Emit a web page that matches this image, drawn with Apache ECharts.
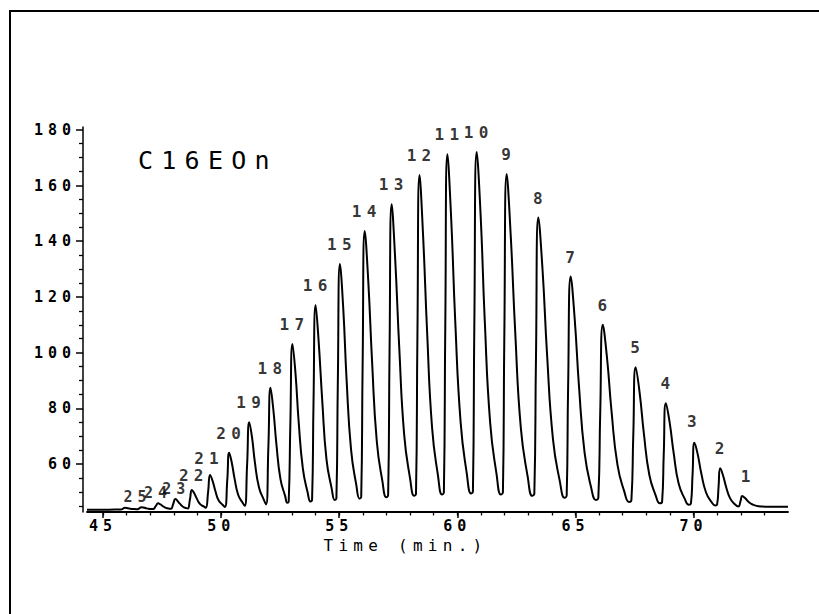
<!DOCTYPE html>
<html>
<head>
<meta charset="utf-8">
<style>
html,body{margin:0;padding:0;background:#fff;}
#main{width:819px;height:614px;}
#main text{letter-spacing:0.33em;}
</style>
<script src="https://cdn.jsdelivr.net/npm/echarts@6.0.0/dist/echarts.min.js"></script>
</head>
<body>
<div id="main"></div>
<script>
// ---- data ----
const peakNumbers = [1,2,3,4,5,6,7,8,9,10,11,12,13,14,15,16,17,18,19,20,21,22,23,24,25];
const peakTimes   = [72.06,71.13,70.04,68.83,67.55,66.16,64.80,63.43,62.09,60.82,59.58,58.40,57.22,56.08,55.03,54.00,53.02,52.09,51.19,50.34,49.53,48.76,48.06,47.33,46.63];
const peakHeights = [48.5,58.5,67.7,81.8,94.8,110.0,127.3,148.5,164.1,172.0,171.2,163.8,153.3,143.7,131.8,117.1,103.1,87.4,75.0,64.1,56.1,50.7,47.5,45.9,44.5];

// detector trace [time (min), signal]
const trace = [
 [44.32,43.6],[45.0,43.6],[45.5,43.7],
 [45.75,43.7],[45.93,44.3],[46.15,44.0],[46.35,43.85],
 [46.45,43.8],[46.63,44.5],[46.85,44.1],[47.05,43.85],
 [47.12,43.85],[47.23,44.9],[47.33,45.9],[47.43,45.5],[47.53,44.9],[47.66,44.3],[47.82,44.0],
 [47.88,43.95],[47.97,45.7],[48.06,47.5],[48.15,46.8],[48.25,45.8],[48.38,44.7],[48.53,44.2],
 [48.59,44.05],[48.68,47.4],[48.76,50.7],[48.86,49.5],[48.97,47.6],[49.11,45.6],[49.28,44.7],
 [49.35,44.3],[49.45,50.2],[49.53,56.1],[49.64,53.9],[49.75,50.5],[49.89,47.0],[50.07,45.3],
 [50.16,44.6],[50.26,54.4],[50.34,64.1],[50.45,60.5],[50.57,54.7],[50.72,49.0],[50.91,46.1],
 [51.0,45.0],[51.1,60.0],[51.19,75.0],[51.31,69.4],[51.43,60.5],[51.6,51.7],[51.8,47.3],
 [51.9,45.5],[52.0,66.4],[52.09,87.4],[52.21,79.5],[52.34,67.1],[52.51,54.7],[52.71,48.5],
 [52.8,46.1],[52.86,46.6],[52.93,74.5],[53.02,103.1],[53.15,92.3],[53.28,75.4],[53.46,58.4],[53.66,49.9],
 [53.78,46.6],[53.85,47.3],[53.91,81.8],[54.0,117.1],[54.13,103.8],[54.28,82.8],[54.46,61.7],[54.68,51.2],
 [54.81,47.1],[54.88,47.8],[54.94,89.4],[55.03,131.8],[55.17,115.8],[55.31,90.5],[55.5,65.2],[55.72,52.6],
 [55.86,47.6],[55.93,48.3],[55.99,95.6],[56.08,143.7],[56.23,125.5],[56.39,96.8],[56.59,68.1],[56.83,53.7],
 [56.99,48.1],[57.07,48.9],[57.13,100.7],[57.22,153.3],[57.37,133.4],[57.54,101.9],[57.75,70.5],[58.0,54.8],
 [58.17,48.6],[58.25,49.4],[58.31,106.2],[58.4,163.8],[58.55,142.0],[58.72,107.5],[58.93,73.1],[59.18,55.9],
 [59.35,49.1],[59.43,49.9],[59.49,110.1],[59.58,171.2],[59.74,148.0],[59.91,111.5],[60.14,74.9],[60.4,56.6],
 [60.58,49.4],[60.66,50.2],[60.72,110.6],[60.82,172.0],[60.99,148.6],[61.16,111.7],[61.39,74.8],[61.66,56.4],
 [61.84,49.1],[61.93,49.9],[61.99,106.5],[62.09,164.1],[62.26,142.1],[62.45,107.5],[62.69,72.8],[62.98,55.4],
 [63.17,48.6],[63.26,49.4],[63.33,98.5],[63.43,148.5],[63.61,129.4],[63.8,99.2],[64.05,68.9],[64.34,53.8],
 [64.54,47.9],[64.63,48.7],[64.69,87.5],[64.8,127.3],[64.97,112.0],[65.15,88.0],[65.39,63.9],[65.66,51.8],
 [65.87,47.1],[65.97,47.9],[66.05,78.5],[66.16,110.0],[66.34,97.9],[66.53,78.8],[66.78,59.7],[67.07,50.1],
 [67.27,46.4],[67.37,47.1],[67.45,70.5],[67.55,94.8],[67.72,85.5],[67.9,70.8],[68.13,56.1],[68.4,48.7],
 [68.57,45.9],[68.67,46.5],[68.74,63.8],[68.83,81.8],[68.99,74.9],[69.16,63.9],[69.37,53.0],[69.63,47.5],
 [69.8,45.4],[69.89,45.9],[69.96,56.5],[70.04,67.7],[70.18,63.4],[70.33,56.6],[70.53,49.8],[70.76,46.4],
 [70.93,45.1],[71.0,45.6],[71.06,51.8],[71.13,58.5],[71.25,55.9],[71.38,51.8],[71.55,47.7],[71.75,45.6],
 [71.9,44.8],[71.99,46.7],[72.06,48.5],[72.18,47.8],[72.31,46.6],[72.5,45.5],[72.75,44.9],
 [73.2,44.7],[74.0,44.7]
];

const xMajorTicks = [45,50,55,60,65,70];
const xMinorTicks = [45,46,47,48,49,50,51,52,53,54,55,56,57,58,59,60,61,62,63,64,65,66,67,68,69,70,71,72,73];
const yMajorTicks = [60,80,100,120,140,160,180];
const yMinorTicks = [45,50,55,65,70,75,85,90,95,105,110,115,125,130,135,145,150,155,165,170,175];

const chartTitle = 'C16EOn';
const xName = 'Time (min.)';

// ---- styling ----
const FONT = '"DejaVu Sans Mono", monospace';
const X_MIN = 44.32, X_MAX = 74, Y_MIN = 42.8, Y_MAX = 181;
// per-label nudges [dx, distance] for crowded small peaks (style only)
const labelNudge = {1:[4,11],3:[-2,13],21:[-3,8],22:[0,6],23:[-1,2],24:[-2,2],25:[-6,2]};
const smallLabels = {23: 15, 24: 15, 25: 15};

const labelData = peakNumbers.map((n, i) => {
  const nd = labelNudge[n] || [0, 11];
  const lab = { offset: [nd[0] + 2, 0], distance: nd[1] };
  if (smallLabels[n]) lab.fontSize = smallLabels[n];
  return { name: String(n), value: [peakTimes[i], peakHeights[i]], label: lab };
});

const chart = echarts.init(document.getElementById('main'), null, {renderer: 'svg'});
chart.setOption({
  animation: false,
  backgroundColor: '#fff',
  title: {
    text: chartTitle, left: 133, top: 143,
    textStyle: {fontFamily: FONT, fontSize: 25, fontWeight: 'normal', color: '#000'}
  },
  graphic: [{
    type: 'rect', silent: true,
    shape: {x: 10, y: 11, width: 900, height: 700},
    style: {fill: 'none', stroke: '#000', lineWidth: 2}
  }],
  grid: {left: 87, right: 31, top: 127, bottom: 102},
  xAxis: [{
    type: 'value', min: X_MIN, max: X_MAX, position: 'bottom',
    axisLine: {show: true, lineStyle: {color: '#000', width: 1.8}},
    axisTick: {show: true, customValues: xMajorTicks, length: 6, lineStyle: {color: '#000', width: 1.5}},
    axisLabel: {customValues: xMajorTicks, margin: 6, color: '#000', fontSize: 15, fontWeight: 'bold', fontFamily: FONT},
    splitLine: {show: false},
    name: xName, nameLocation: 'middle', nameGap: 22,
    nameTextStyle: {fontFamily: FONT, fontSize: 16, color: '#000', padding: [0, 64, 0, 0]}
  }, {
    type: 'value', min: X_MIN, max: X_MAX, position: 'bottom',
    axisLine: {show: false},
    axisTick: {show: true, customValues: xMinorTicks, length: 3.5, lineStyle: {color: '#000', width: 1.3}},
    axisLabel: {show: false}, splitLine: {show: false}
  }],
  yAxis: [{
    type: 'value', min: Y_MIN, max: Y_MAX, position: 'left', offset: 4,
    axisLine: {show: true, lineStyle: {color: '#000', width: 1.5}},
    axisTick: {show: true, customValues: yMajorTicks, length: 7, lineStyle: {color: '#000', width: 1.5}},
    axisLabel: {customValues: yMajorTicks, margin: 7, color: '#000', fontSize: 15, fontWeight: 'bold', fontFamily: FONT},
    splitLine: {show: false}
  }, {
    type: 'value', min: Y_MIN, max: Y_MAX, position: 'left', offset: 4,
    axisLine: {show: false},
    axisTick: {show: true, customValues: yMinorTicks, length: 4, lineStyle: {color: '#000', width: 1.3}},
    axisLabel: {show: false}, splitLine: {show: false}
  }],
  series: [{
    type: 'line', data: trace, xAxisIndex: 0, yAxisIndex: 0,
    symbol: 'none', smooth: 0.5,
    lineStyle: {color: '#000', width: 2}
  }, {
    type: 'scatter', data: labelData, xAxisIndex: 0, yAxisIndex: 0,
    symbolSize: 1, itemStyle: {color: 'rgba(0,0,0,0)'}, silent: true,
    label: {show: true, position: 'top', formatter: p => p.name,
      fontFamily: FONT, fontSize: 16, fontWeight: 'bold', color: '#000'}
  }]
});
</script>
</body>
</html>
